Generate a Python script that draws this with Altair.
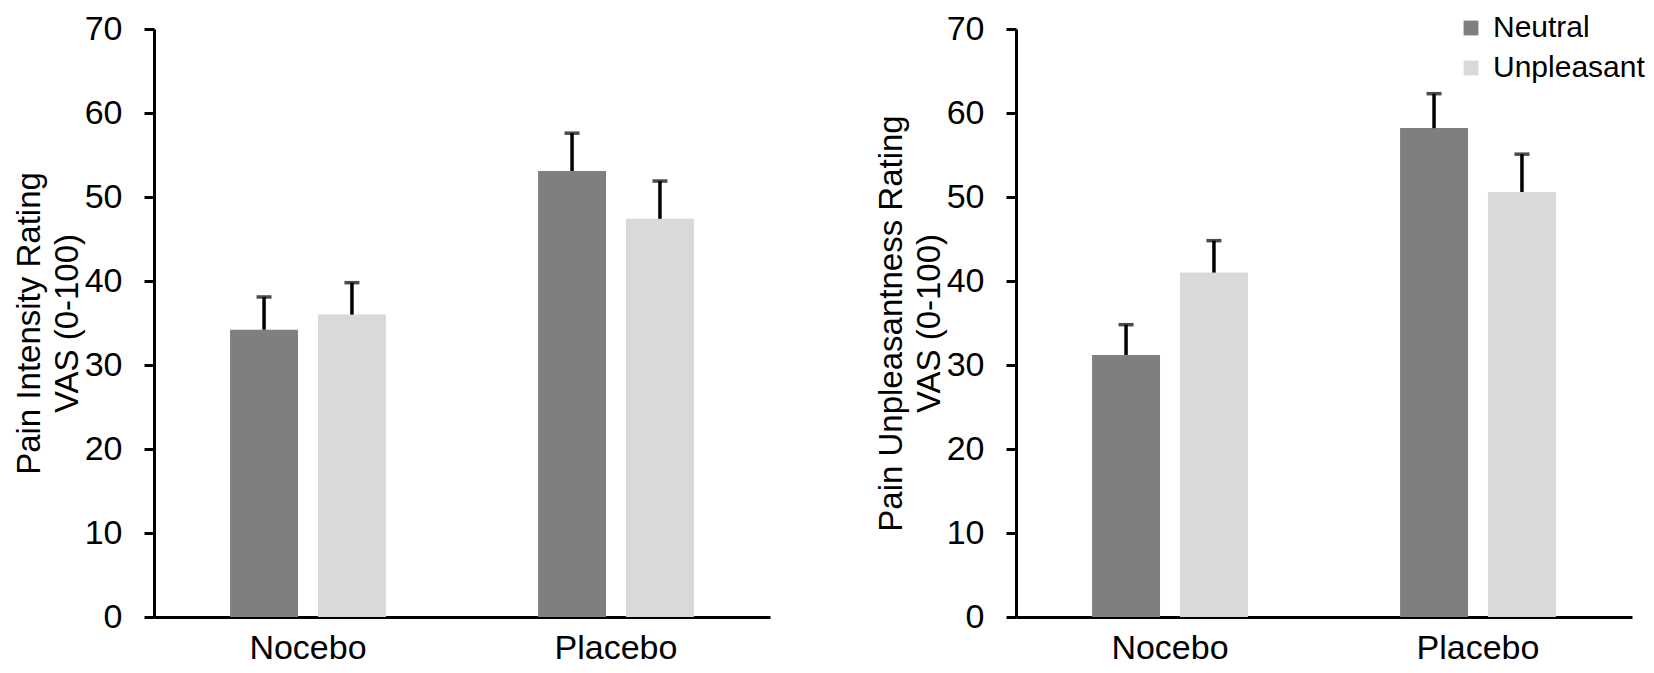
import altair as alt
import pandas as pd

# ---- data ----
conditions = ["Nocebo", "Nocebo", "Placebo", "Placebo"]
stimuli = ["Neutral", "Unpleasant", "Neutral", "Unpleasant"]
intensity_mean = [34.2, 36.0, 53.1, 47.4]
intensity_upper = [38.1, 39.8, 57.6, 51.9]
unpleasantness_mean = [31.2, 41.0, 58.2, 50.6]
unpleasantness_upper = [34.8, 44.8, 62.3, 55.1]
y_ticks = [0, 10, 20, 30, 40, 50, 60, 70]
stim_domain = ["Neutral", "Unpleasant"]
stim_colors = ["#7f7f7f", "#d9d9d9"]
left_title = ["Pain Intensity Rating", "VAS (0-100)"]
right_title = ["Pain Unpleasantness Rating", "VAS (0-100)"]

FONT = "Liberation Sans"


def panel(mean, upper, title_lines, show_legend):
    df = pd.DataFrame({"condition": conditions, "stimulus": stimuli,
                       "mean": mean, "upper": upper})
    yscale = alt.Scale(domain=[0, 70], nice=False)
    yaxis = alt.Axis(values=y_ticks, grid=False, tickSize=10, tickWidth=3,
                     tickColor="black", domainWidth=3, domainColor="black",
                     labelFontSize=34, labelPadding=22, labelColor="black",
                     labelFont=FONT, title=title_lines, titleFontSize=33,
                     titleFont=FONT, titleFontWeight="normal",
                     titleLineHeight=38, titlePadding=0, titleColor="black")
    base = alt.Chart(df).encode(
        x=alt.X("condition:N",
                scale=alt.Scale(paddingInner=0.494, paddingOuter=0.247),
                axis=alt.Axis(title=None, labelAngle=0, ticks=False,
                              domainWidth=3, domainColor="black",
                              labelFontSize=34, labelFont=FONT,
                              labelPadding=14, labelColor="black")),
        xOffset=alt.XOffset("stimulus:N",
                            scale=alt.Scale(domain=stim_domain,
                                            paddingInner=0.227,
                                            paddingOuter=0)),
    )
    cscale = alt.Scale(domain=stim_domain, range=stim_colors)
    if show_legend:
        color = alt.Color(
            "stimulus:N", scale=cscale,
            legend=alt.Legend(title=None, orient="none", legendX=440,
                              legendY=-16, symbolType="square",
                              symbolSize=220, symbolStrokeWidth=0,
                              labelFontSize=30, labelFont=FONT,
                              labelColor="black", labelOffset=7,
                              rowPadding=10))
    else:
        color = alt.Color("stimulus:N", scale=cscale, legend=None)
    bars = base.mark_bar().encode(
        y=alt.Y("mean:Q", scale=yscale, axis=yaxis),
        color=color,
    )
    rule = base.mark_rule(color="black", strokeWidth=3.5).encode(
        y=alt.Y("mean:Q", scale=yscale, axis=yaxis),
        y2="upper:Q",
    )
    cap = base.mark_tick(color="black", size=15, thickness=3.5).encode(
        y=alt.Y("upper:Q", scale=yscale, axis=yaxis),
    )
    return alt.layer(bars, rule, cap).properties(width=616, height=588)


left = panel(intensity_mean, intensity_upper, left_title, False)
right = panel(unpleasantness_mean, unpleasantness_upper, right_title, True)

chart = alt.hconcat(left, right, spacing=105).resolve_legend(
    color="independent"
).properties(
    padding={"top": 4, "left": 5, "right": 0, "bottom": 0}
).configure(font=FONT).configure_view(stroke=None)

chart.save("out.html", embed_options={"renderer": "svg", "actions": False})
